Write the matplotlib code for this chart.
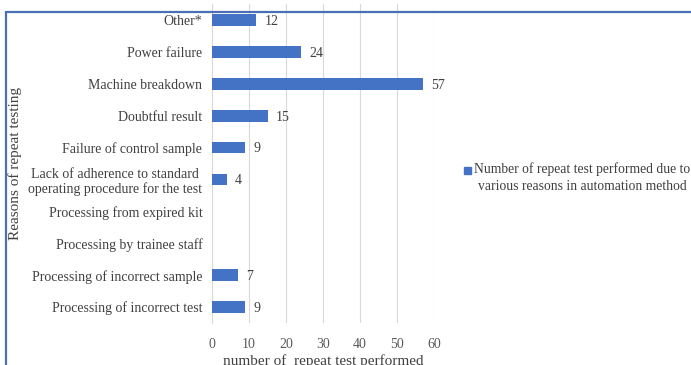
import matplotlib.pyplot as plt
from matplotlib.patches import Rectangle

# data, top to bottom as shown in the chart
reasons = [
    "Other*",
    "Power failure",
    "Machine breakdown",
    "Doubtful result",
    "Failure of control sample",
    "Lack of adherence to standard\noperating procedure for the test",
    "Processing from expired kit",
    "Processing by trainee staff",
    "Processing of incorrect sample",
    "Processing of incorrect test",
]
repeat_counts = [12, 24, 57, 15, 9, 4, 0, 0, 7, 9]
x_ticks = [0, 10, 20, 30, 40, 50, 60]
series_name = "Number of repeat test performed due to\nvarious reasons in automation method"

bar_color = "#4472C4"
plt.rcParams["font.family"] = ["Liberation Serif", "DejaVu Serif"]

fig = plt.figure(figsize=(6.91, 3.65), dpi=100)
ax = fig.add_axes([212 / 691, 1 - 323 / 365, 222 / 691, 319 / 365])

ypos = list(range(len(reasons)))
ax.barh(ypos, repeat_counts, height=0.37, color=bar_color, zorder=3)
ax.set_ylim(len(reasons) - 0.5, -0.5)
ax.set_xlim(0, 60)
ax.set_xticks(x_ticks)
ax.set_yticks(ypos)
ax.set_yticklabels(reasons, fontsize=10, color="#404040")
for lbl in ax.get_yticklabels():
    lbl.set_multialignment("center")
ax.tick_params(axis="x", length=0, pad=11, labelsize=10, labelcolor="#595959")
ax.tick_params(axis="y", length=0, pad=7)
ax.grid(axis="x", color="#d9d9d9", linewidth=0.8, zorder=0)
for side in ["top", "right", "bottom"]:
    ax.spines[side].set_visible(False)
ax.spines["left"].set_color("#d9d9d9")

# value labels (zero bars carry no label)
for y, v in zip(ypos, repeat_counts):
    if v > 0:
        ax.annotate(str(v), (v, y), xytext=(6, -1), textcoords="offset points",
                    va="center", ha="left", fontsize=10, color="#404040")

ax.set_xlabel("number of  repeat test performed", fontsize=11, color="#404040", labelpad=2)
fig.text(15 / 691, 1 - 163 / 365, "Reasons of repeat testing", rotation=90,
         ha="center", va="center", fontsize=11, color="#404040")

# legend drawn by hand so the second line can be centred
fig.patches.append(Rectangle((464 / 691, 1 - 174 / 365), 7 / 691, 7 / 365,
                             transform=fig.transFigure, color=bar_color))
fig.text(582 / 691, 1 - 178 / 365, series_name, ha="center", va="center",
         multialignment="center", fontsize=9.8, color="#404040", linespacing=1.4)

# outer chart frame
fig.patches.append(Rectangle((6 / 691, -0.05), 1.1, 1 - 11.5 / 365 + 0.05,
                             transform=fig.transFigure, fill=False,
                             edgecolor="#4a6fb5", linewidth=1.6))

fig.savefig("out.png", dpi=100)
